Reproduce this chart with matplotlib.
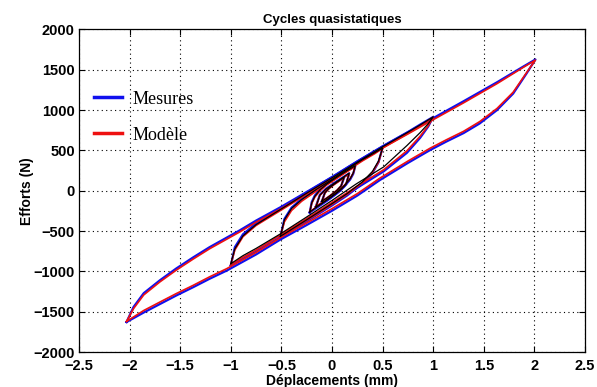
import matplotlib
matplotlib.use('Agg')
import matplotlib.pyplot as plt

# abscisses communes (mm) pour chaque cycle, branche montante puis descendante
depl_c2 = [-2.03, -1.86, -1.70, -1.54, -1.37, -1.21, -1.04, -0.75, -0.51, -0.25, 0.0, 0.25, 0.47, 0.75, 0.97,
           1.13, 1.30, 1.46, 1.63, 1.79, 1.92, 2.01,
           1.89, 1.63, 1.30, 0.97, 0.75, 0.50, 0.25, 0.0, -0.25, -0.51, -0.75, -0.91, -1.21, -1.37, -1.54,
           -1.70, -1.86, -1.96, -2.03]
depl_c1 = [-1.0, -0.88, -0.75, -0.51, -0.25, 0.0, 0.24, 0.51, 0.74, 0.87, 0.95, 1.0,
           0.87, 0.75, 0.5, 0.25, 0.0, -0.25, -0.5, -0.75, -0.88, -0.96, -1.0]
depl_c05 = [-0.51, -0.42, -0.3, -0.15, 0.0, 0.15, 0.3, 0.4, 0.46, 0.5,
            0.42, 0.3, 0.15, 0.0, -0.15, -0.3, -0.4, -0.47, -0.51]
depl_c025 = [-0.22, -0.15, -0.05, 0.05, 0.12, 0.18, 0.21, 0.23,
             0.15, 0.05, -0.05, -0.12, -0.17, -0.20, -0.22]
depl_c015 = [-0.16, -0.08, 0.0, 0.08, 0.14, 0.17,
             0.10, 0.02, -0.06, -0.12, -0.16]
depl_c01 = [-0.10, -0.05, 0.0, 0.05, 0.09, 0.12,
            0.07, 0.02, -0.03, -0.07, -0.10]
depl_noir_c2 = [2.01, 1.89, 1.63, 1.30, 0.97, 0.75, 0.50, 0.25, 0.0, -0.25, -0.51, -0.75, -0.91]

# Mesures (N)
mes_c2 = [-1628, -1510, -1405, -1300, -1195, -1092, -990, -790, -605, -425, -248, -60, 130, 345, 505,
          610, 715, 835, 1000, 1205, 1450, 1628,
          1540, 1345, 1110, 880, 725, 550, 365, 170, -15, -205, -370, -490, -700, -825, -965,
          -1110, -1270, -1440, -1628]
mes_c1 = [-930, -845, -755, -575, -370, -165, 30, 240, 470, 655, 795, 916,
          820, 728, 550, 362, 168, -22, -215, -405, -540, -700, -930]
mes_c05 = [-575, -510, -418, -300, -182, -58, 88, 220, 355, 535,
           475, 392, 270, 148, 28, -100, -210, -350, -575]
mes_c025 = [-270, -210, -125, -30, 50, 140, 210, 305,
            250, 170, 90, 15, -60, -140, -270]
mes_c015 = [-200, -140, -75, 0, 80, 215,
            160, 95, 25, -50, -200]
mes_c01 = [-135, -95, -50, 0, 55, 165,
           125, 85, 35, -20, -135]

# Modele (N)
mod_c2 = [-1620, -1485, -1380, -1276, -1172, -1068, -966, -765, -582, -400, -222, -36, 154, 368, 528,
          632, 737, 858, 1020, 1222, 1460, 1620,
          1530, 1328, 1090, 860, 704, 530, 344, 150, -36, -226, -390, -510, -720, -846, -986,
          -1130, -1292, -1460, -1620]
mod_c1 = [-915, -825, -735, -550, -345, -145, 50, 260, 495, 675, 805, 910,
          805, 712, 530, 342, 146, -44, -238, -430, -570, -735, -915]
mod_c05 = [-560, -495, -405, -290, -170, -45, 100, 230, 355, 525,
           458, 370, 247, 120, 0, -130, -245, -385, -560]
mod_c025 = [-262, -198, -110, -12, 65, 152, 220, 300,
            238, 156, 74, -2, -80, -158, -262]
mod_c015 = [-195, -132, -66, 8, 88, 210,
            150, 86, 16, -58, -195]
mod_c01 = [-128, -88, -42, 8, 62, 168,
           118, 75, 25, -30, -128]

# troisieme trace (noir)
noir_c2 = [1628, 1536, 1338, 1102, 872, 716, 542, 356, 162, -24, -214, -380, -500]
noir_c1 = [-905, -805, -715, -535, -325, -120, 85, 295, 560, 720, 830, 916,
           815, 725, 545, 355, 160, -30, -225, -420, -560, -720, -905]
noir_c05 = [-565, -495, -400, -280, -160, -35, 110, 240, 370, 530,
            470, 385, 265, 140, 20, -110, -220, -360, -565]
noir_c025 = [-265, -200, -115, -20, 60, 150, 220, 310,
             250, 170, 85, 10, -70, -150, -265]
noir_c015 = [-205, -138, -70, 6, 84, 220,
             156, 90, 20, -55, -205]
noir_c01 = [-130, -90, -45, 5, 60, 170,
            125, 80, 30, -25, -130]

x_ticks = [-2.5, -2, -1.5, -1, -0.5, 0, 0.5, 1, 1.5, 2, 2.5]
y_ticks = [-2000, -1500, -1000, -500, 0, 500, 1000, 1500, 2000]

plt.rcParams['font.family'] = ['Liberation Sans', 'DejaVu Sans']

fig = plt.figure(figsize=(5.97, 3.87), dpi=100)
ax = fig.add_axes([0.1323, 0.0904, 0.8476, 0.8334])

blue = '#1010ee'
red = '#ee1010'

depl_all = [depl_c2, depl_c1, depl_c05, depl_c025, depl_c015, depl_c01]
ax.plot(depl_noir_c2, noir_c2, color='black', lw=0.9)
for x, y in zip(depl_all, [mes_c2, mes_c1, mes_c05, mes_c025, mes_c015, mes_c01]):
    l_mes, = ax.plot(x, y, color=blue, lw=1.6)
for x, y in zip(depl_all, [mod_c2, mod_c1, mod_c05, mod_c025, mod_c015, mod_c01]):
    l_mod, = ax.plot(x, y, color=red, lw=1.2)
for x, y in zip(depl_all[1:], [noir_c1, noir_c05, noir_c025, noir_c015, noir_c01]):
    ax.plot(x, y, color='black', lw=0.9)

ax.set_xlim(-2.5, 2.5)
ax.set_ylim(-2000, 2000)
ax.set_xticks(x_ticks)
ax.set_xticklabels([f'{v:g}'.replace('-', '\u2212') for v in x_ticks])
ax.set_yticks(y_ticks)
ax.set_yticklabels([f'{v:g}'.replace('-', '\u2212') for v in y_ticks])
ax.grid(True, color='black', linestyle=(0, (1, 3)), lw=0.8)
ax.tick_params(direction='in', top=True, right=True, length=4, width=0.8,
               labelsize=10.5, pad=3)
ax.tick_params(axis='x', pad=5)
for lab in ax.get_xticklabels() + ax.get_yticklabels():
    lab.set_fontweight('bold')
for s in ax.spines.values():
    s.set_linewidth(0.9)

ax.set_title('Cycles quasistatiques', fontsize=9.5, fontweight='bold', pad=5)
ax.set_xlabel('Déplacements (mm)', fontsize=10, fontweight='bold', labelpad=1)
ax.set_ylabel('Efforts (N)', fontsize=10, fontweight='bold')
ax.yaxis.set_label_coords(-0.088, 0.5)

ax.legend([l_mes, l_mod], ['Mesures', 'Modèle'], loc='upper left',
          bbox_to_anchor=(0.03, 0.81), frameon=False, borderpad=0, borderaxespad=0,
          handlelength=1.55, handletextpad=0.6, labelspacing=1.05,
          prop={'family': 'Liberation Serif', 'size': 13})
for line in ax.get_legend().get_lines():
    line.set_linewidth(2.5)

fig.savefig('out.png', dpi=100)
